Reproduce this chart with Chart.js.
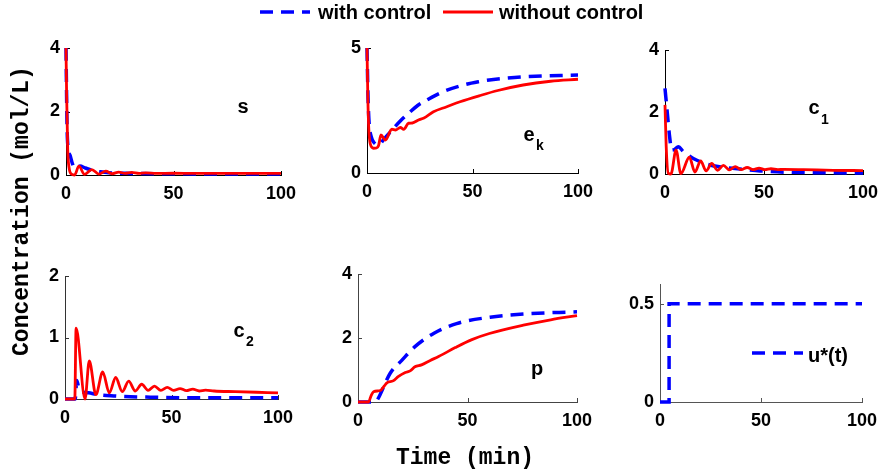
<!DOCTYPE html>
<html><head><meta charset="utf-8">
<script src="https://cdn.jsdelivr.net/npm/chart.js@4.4.1/dist/chart.umd.min.js"></script>
<style>
html,body{margin:0;padding:0;background:#fff;width:881px;height:474px;overflow:hidden;}
#wrap{position:relative;width:881px;height:474px;overflow:hidden;}
canvas{position:absolute;}
.lbl{position:absolute;font-family:'Liberation Sans',Arial,sans-serif;font-weight:bold;color:#000;white-space:nowrap;line-height:1;transform:translate(-50%,-50%);}
.sub{position:absolute;font-family:'Liberation Sans',Arial,sans-serif;font-weight:bold;color:#000;line-height:1;transform:translate(-50%,-50%);font-size:14px;}
.mono{position:absolute;font-family:'Liberation Mono','Courier New',monospace;font-weight:bold;color:#000;white-space:nowrap;line-height:1;font-size:23px;}
svg{position:absolute;overflow:visible;}
</style></head><body><div id="wrap"></div>
<script>
// ---------------- DATA ----------------
const seriesNames = ['with control', 'without control'];
const xTicks = [0, 50, 100];

// s
const sTimeWith = [0, 0.5, 1, 2, 3, 4, 5, 6.5, 9, 12, 16, 20, 30, 50, 75, 100];
const sWith     = [4, 1.5, 0.85, 0.6, 0.35, 0.22, 0.24, 0.28, 0.22, 0.15, 0.1, 0.07, 0.05, 0.04, 0.03, 0.03];
const sTimeWithout = [0, 0.3, 0.8, 1.5, 2.5, 4, 6, 8.6, 12, 15.3, 18.5, 21.5, 24.5, 27.5, 30.5, 34, 37, 42, 50, 60, 100];
const sWithout     = [4, 2.5, 0.8, 0.2, 0.03, 0.0, 0.28, 0.02, 0.17, 0.03, 0.12, 0.04, 0.09, 0.05, 0.08, 0.05, 0.07, 0.05, 0.055, 0.05, 0.05];
const sTicks = [0, 2, 4];

// e_k
const ekTimeWith = [0, 0.5, 1, 2, 3.5, 5.5, 8, 12.6, 16, 20.5, 24, 28.4, 36, 45.7, 52.8, 58, 62, 75, 100];
const ekWith     = [5, 3, 2, 1.45, 1.2, 1.12, 1.35, 1.79, 2.1, 2.45, 2.7, 2.92, 3.25, 3.52, 3.65, 3.72, 3.76, 3.85, 3.92];
const ekTimeWithout = [0, 0.4, 0.8, 1.6, 3.1, 4.5, 5.5, 6.6, 8.7, 11.8, 13.5, 15.8, 17.4, 19.7, 21.5, 24.4, 27, 31.5, 37.8, 44.1, 53.6, 62, 74, 87, 100];
const ekWithout     = [5, 3.0, 1.85, 1.15, 0.99, 1.0, 1.1, 1.52, 1.32, 1.75, 1.72, 1.82, 1.75, 1.99, 2.0, 2.12, 2.2, 2.45, 2.65, 2.85, 3.1, 3.3, 3.52, 3.67, 3.75];
const ekTicks = [0, 5];

// c_1
const c1TimeWith = [0, 1.2, 2.2, 3.4, 5, 6.7, 9.3, 14.3, 22.7, 31, 39.6, 48, 60, 80, 100];
const c1With     = [2.76, 1.95, 1.28, 0.77, 0.8, 0.88, 0.72, 0.5, 0.29, 0.2, 0.15, 0.1, 0.06, 0.04, 0.03];
const c1TimeWithout = [0, 0.6, 1.7, 3, 5.6, 8, 12.3, 15.1, 18, 20.8, 23.6, 26.5, 29.5, 32.5, 35.5, 38.5, 41.5, 44.5, 47.5, 50.5, 53.5, 57, 60, 70, 85, 100];
const c1Without     = [2.23, 0.9, 0.02, 0.0, 0.77, 0.01, 0.54, 0.06, 0.42, 0.1, 0.34, 0.12, 0.28, 0.13, 0.24, 0.14, 0.21, 0.14, 0.19, 0.14, 0.17, 0.14, 0.15, 0.14, 0.12, 0.11];
const c1Ticks = [0, 2, 4];

// c_2
const c2TimeWith = [0, 4.8, 5.5, 6.5, 8, 11, 16, 23, 28, 40, 60, 100];
const c2With     = [0, 0, 0.3, 0.18, 0.12, 0.1, 0.07, 0.05, 0.04, 0.03, 0.02, 0.02];
const c2TimeWithout = [0, 4.6, 5.2, 9.4, 11.4, 14.5, 17.7, 20.8, 23.8, 26.9, 29.9, 33, 36, 39, 42, 45, 48, 51, 54, 57, 60, 63, 66, 70, 80, 90, 100];
const c2Without     = [0, 0, 1.15, 0.0, 0.62, 0.07, 0.44, 0.1, 0.35, 0.12, 0.29, 0.13, 0.24, 0.14, 0.21, 0.14, 0.19, 0.14, 0.17, 0.135, 0.16, 0.13, 0.145, 0.13, 0.12, 0.11, 0.1];
const c2Ticks = [0, 1, 2];

// p
const pTimeWith = [0, 8, 8.7, 14.7, 20.1, 26, 34.7, 45, 60.3, 75.5, 100];
const pWith     = [0, 0, 0.05, 0.9, 1.31, 1.73, 2.15, 2.45, 2.65, 2.75, 2.82];
const pTimeWithout = [0, 4.8, 6, 7.1, 10.2, 12, 13.2, 16, 18.5, 21.6, 24, 26, 29, 33, 36.8, 44.4, 52, 60, 75.5, 88, 100];
const pWithout     = [0, 0, 0.2, 0.32, 0.36, 0.5, 0.6, 0.66, 0.8, 0.92, 0.98, 1.1, 1.16, 1.3, 1.42, 1.7, 1.95, 2.14, 2.4, 2.57, 2.7];
const pTicks = [0, 2, 4];

// u*(t)
const uTime = [0, 4.5, 4.5, 100];
const uValues = [0, 0, 0.5, 0.5];
const uTicks = [0, 0.5];

// ---------------- STYLES / LAYOUT ----------------
const BLUE = '#0000ff', RED = '#ff0000';
const YW = 50, XH = 34, PT = 14, PR = 24;
const tickFont = {family: "'Liberation Sans', Arial, sans-serif", size: 18, weight: 'bold'};

const panels = [
  {rect: [66, 281, 48, 175], ymax: 4, yTicks: sTicks, axis: '#000',
   series: [[sTimeWith, sWith, 'w'], [sTimeWithout, sWithout, 'o']]},
  {rect: [367, 578, 48, 173], ymax: 5, yTicks: ekTicks, axis: '#000',
   series: [[ekTimeWith, ekWith, 'w'], [ekTimeWithout, ekWithout, 'o']]},
  {rect: [665, 863, 50, 174], ymax: 4, yTicks: c1Ticks, axis: '#000',
   series: [[c1TimeWith, c1With, 'w'], [c1TimeWithout, c1Without, 'o']]},
  {rect: [65, 278, 276, 399], ymax: 2, yTicks: c2Ticks, axis: '#333',
   series: [[c2TimeWith, c2With, 'w'], [c2TimeWithout, c2Without, 'o']]},
  {rect: [358, 577, 274, 402], ymax: 4, yTicks: pTicks, axis: '#444',
   series: [[pTimeWith, pWith, 'w'], [pTimeWithout, pWithout, 'o']]},
  {rect: [660, 862, 284, 402], ymax: 0.6, yTicks: uTicks, axis: '#555',
   series: [[uTime, uValues, 'u']]}
];

const inwardTicks = {
  id: 'inwardTicks',
  beforeDatasetsDraw(chart, args, opts) {
    const {ctx, chartArea: a, scales: {x, y}} = chart;
    ctx.save();
    ctx.strokeStyle = opts.color || '#000';
    ctx.lineWidth = 1;
    ctx.beginPath();
    x.ticks.forEach(t => { const px = Math.round(x.getPixelForValue(t.value)) + 0.5; ctx.moveTo(px, a.bottom); ctx.lineTo(px, a.bottom - 4); });
    y.ticks.forEach(t => { const py = Math.round(y.getPixelForValue(t.value)) + 0.5; ctx.moveTo(a.left, py); ctx.lineTo(a.left + 4, py); });
    ctx.stroke();
    ctx.restore();
  }
};

const wrap = document.getElementById('wrap');

panels.forEach(p => {
  const [x0, x1, yt, yb] = p.rect;
  const cv = document.createElement('canvas');
  const w = YW + (x1 - x0) + PR, h = PT + (yb - yt) + XH;
  cv.width = w; cv.height = h;
  cv.style.left = (x0 - YW) + 'px';
  cv.style.top = (yt - PT) + 'px';
  cv.style.width = w + 'px'; cv.style.height = h + 'px';
  wrap.appendChild(cv);

  const datasets = p.series.map(([t, v, kind]) => {
    const isWith = kind !== 'o';
    return {
      label: kind === 'u' ? 'u*(t)' : (isWith ? seriesNames[0] : seriesNames[1]),
      data: t.map((tt, i) => ({x: tt, y: v[i]})),
      borderColor: isWith ? BLUE : RED,
      borderWidth: isWith ? 3.5 : 2.8,
      borderDash: isWith ? [13, 8] : [],
      pointRadius: 0,
      fill: false,
      tension: kind === 'u' ? 0 : 0.4,
      cubicInterpolationMode: kind === 'u' ? 'default' : 'monotone',
      order: isWith ? 1 : 0,
      clip: false
    };
  });

  new Chart(cv, {
    type: 'line',
    data: {datasets},
    plugins: [inwardTicks],
    options: {
      responsive: false,
      animation: false,
      devicePixelRatio: 1,
      layout: {padding: {top: PT, right: PR, left: 0, bottom: 0}},
      plugins: {legend: {display: false}, tooltip: {enabled: false}, inwardTicks: {color: p.axis}},
      scales: {
        x: {
          type: 'linear', min: 0, max: 100,
          afterBuildTicks: s => { s.ticks = xTicks.map(v => ({value: v})); },
          afterFit: s => { s.height = XH; s.paddingLeft = 0; s.paddingRight = 0; },
          grid: {display: true, drawOnChartArea: false, drawTicks: false},
          border: {display: true, color: p.axis, width: 1},
          ticks: {padding: 8, font: tickFont, color: '#000', maxRotation: 0, autoSkip: false}
        },
        y: {
          type: 'linear', min: 0, max: p.ymax,
          afterBuildTicks: s => { s.ticks = p.yTicks.map(v => ({value: v})); },
          afterFit: s => { s.width = YW; s.paddingTop = 0; s.paddingBottom = 0; },
          grid: {display: true, drawOnChartArea: false, drawTicks: false},
          border: {display: true, color: p.axis, width: 1},
          ticks: {padding: 6, font: tickFont, color: '#000', autoSkip: false}
        }
      }
    }
  });
});

// ---------------- TEXT ----------------
function addDiv(cls, html, x, y, extra) {
  const d = document.createElement('div');
  d.className = cls; d.innerHTML = html;
  d.style.left = x + 'px'; d.style.top = y + 'px';
  if (extra) Object.assign(d.style, extra);
  wrap.appendChild(d);
  return d;
}
function addLine(x0, x1, y, color, width, dash) {
  const ns = 'http://www.w3.org/2000/svg';
  const svg = document.createElementNS(ns, 'svg');
  svg.setAttribute('width', 881); svg.setAttribute('height', 474);
  svg.style.left = '0px'; svg.style.top = '0px';
  const l = document.createElementNS(ns, 'line');
  l.setAttribute('x1', x0); l.setAttribute('x2', x1); l.setAttribute('y1', y); l.setAttribute('y2', y);
  l.setAttribute('stroke', color); l.setAttribute('stroke-width', width);
  if (dash) l.setAttribute('stroke-dasharray', dash);
  svg.appendChild(l);
  wrap.appendChild(svg);
}

// top legend
addLine(260, 310, 12, BLUE, 3.5, '13 8');
addDiv('lbl', seriesNames[0], 318, 12, {transform: 'translate(0,-50%)', fontSize: '20px'});
addLine(443, 493, 12, RED, 2.8, null);
addDiv('lbl', seriesNames[1], 499, 12, {transform: 'translate(0,-50%)', fontSize: '20px'});

// panel labels
addDiv('lbl', 's', 243, 106, {fontSize: '20px'});
addDiv('lbl', 'e', 529, 134, {fontSize: '20px'});
addDiv('sub', 'k', 540, 145);
addDiv('lbl', 'c', 814, 107, {fontSize: '20px'});
addDiv('sub', '1', 825, 119);
addDiv('lbl', 'c', 239, 330, {fontSize: '20px'});
addDiv('sub', '2', 250, 341);
addDiv('lbl', 'p', 537, 368, {fontSize: '20px'});

// u*(t) legend
addLine(752, 803, 353, BLUE, 3.5, '13 8');
addDiv('lbl', 'u*(t)', 808, 355, {transform: 'translate(0,-50%)', fontSize: '20px'});

// axis titles
addDiv('mono', 'Time (min)', 465, 458, {transform: 'translate(-50%,-50%)'});
addDiv('mono', 'Concentration (mol/L)', 22, 211, {transform: 'translate(-50%,-50%) rotate(-90deg)'});
</script>
</body></html>
